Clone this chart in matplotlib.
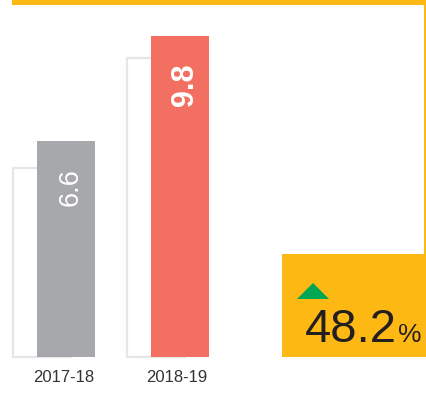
import matplotlib.pyplot as plt
from matplotlib.patches import Rectangle, Polygon

plt.rcParams['font.family'] = ['Liberation Sans', 'DejaVu Sans']

# bar data
years = ['2017-18', '2018-19']
values = [6.6, 9.8]
ghost_vals = [5.77, 9.13]
bar_colors = ['#a7a8ab', '#f26f61']
label_sizes = [19.5, 22]
label_weights = ['normal', 'bold']
change_pct = 48.2

ORANGE = '#fdb813'
W, H = 426, 393
PX_PER_UNIT = 32.76
BASE = 357  # baseline, pixels from top

fig = plt.figure(figsize=(W / 100, H / 100), dpi=100)

# background layer in pixel coords (y down)
bg = fig.add_axes([0, 0, 1, 1])
bg.set_xlim(0, W)
bg.set_ylim(H, 0)
bg.axis('off')
bg.add_patch(Rectangle((12, 0), W - 12, 5, color=ORANGE, lw=0))
bg.add_patch(Rectangle((424, 0), 2, 254, color=ORANGE, lw=0))
bg.add_patch(Rectangle((282, 254), W - 282, BASE - 254, color=ORANGE, lw=0))
bg.add_patch(Polygon([(297, 299), (313, 283), (329, 299)], closed=True,
                     color='#00a651', lw=0))
bg.text(305, 342, f'{change_pct:.1f}', fontsize=34, color='#231f20',
        ha='left', va='baseline')
bg.text(398, 342, '%', fontsize=19, color='#231f20', ha='left', va='baseline')

# bar layer: x in pixels, y in data units
ax = fig.add_axes([0, 0, 1, 1])
ax.patch.set_alpha(0)
ax.axis('off')
ax.set_xlim(0, W)
ax.set_ylim(-(H - BASE) / PX_PER_UNIT, BASE / PX_PER_UNIT)

centers = [66, 180]
bw = 58
ghost_x = [c - 24 for c in centers]
ax.bar(ghost_x, ghost_vals, width=bw, facecolor='white', edgecolor='#e6e6e6',
       linewidth=1.6, zorder=1)
ax.bar(centers, values, width=bw, color=bar_colors, zorder=2)

for c, v, yr, fs, fw in zip(centers, values, years, label_sizes, label_weights):
    ax.annotate(f'{v:.1f}', (c, v), xytext=(3.5, -19.5), textcoords='offset points',
                rotation=90, ha='center', va='top', color='white',
                fontsize=fs, fontweight=fw, zorder=3)
    ax.annotate(yr, (c, 0), xytext=(-2, -18), textcoords='offset points',
                ha='center', va='baseline', color='#333333', fontsize=12)

fig.savefig('out.png', dpi=100)
